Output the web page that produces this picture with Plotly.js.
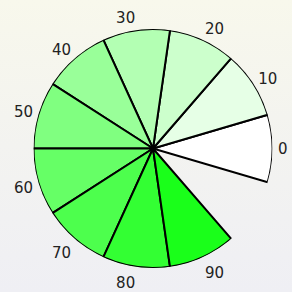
<!DOCTYPE html>
<html>
<head>
<script src="https://cdn.plot.ly/plotly-3.0.1.min.js"></script>
<style>
html,body{margin:0;padding:0;width:292px;height:292px;overflow:hidden;
background:linear-gradient(to bottom,#f8f8ec 0%,#f3f3f0 50%,#efeff4 100%);}
#chart{width:292px;height:292px;}
</style>
</head>
<body>
<div id="chart"></div>
<script>
var categories = ['0','10','20','30','40','50','60','70','80','90'];
var values = [1,1,1,1,1,1,1,1,1,1];
var colors = ['#ffffff','#e6ffe6','#ccffcc','#b3ffb3','#99ff99','#80ff80','#66ff66','#4dff4d','#33ff33','#1aff1a'];

var trace = {
  type: 'barpolar',
  r: values,
  theta: categories,
  marker: {color: colors, line: {color: '#000000', width: 2}},
  hoverinfo: 'none'
};

var layout = {
  width: 292, height: 292,
  margin: {l: 33, r: 19, t: 29, b: 24},
  paper_bgcolor: 'rgba(0,0,0,0)',
  plot_bgcolor: 'rgba(0,0,0,0)',
  showlegend: false,
  font: {family: 'DejaVu Sans', size: 15, color: '#222222'},
  polar: {
    bgcolor: 'rgba(0,0,0,0)',
    domain: {x: [0, 1], y: [0, 1]},
    bargap: 0,
    radialaxis: {visible: false, range: [0, 1]},
    angularaxis: {
      type: 'category',
      period: 11,
      rotation: 0,
      direction: 'counterclockwise',
      showgrid: false,
      showline: false,
      ticks: 'outside',
      ticklen: 2,
      tickcolor: 'rgba(0,0,0,0)',
      tickfont: {family: 'DejaVu Sans', size: 15, color: '#222222'}
    }
  }
};

Plotly.newPlot('chart', [trace], layout, {displayModeBar: false, staticPlot: true});
</script>
</body>
</html>
